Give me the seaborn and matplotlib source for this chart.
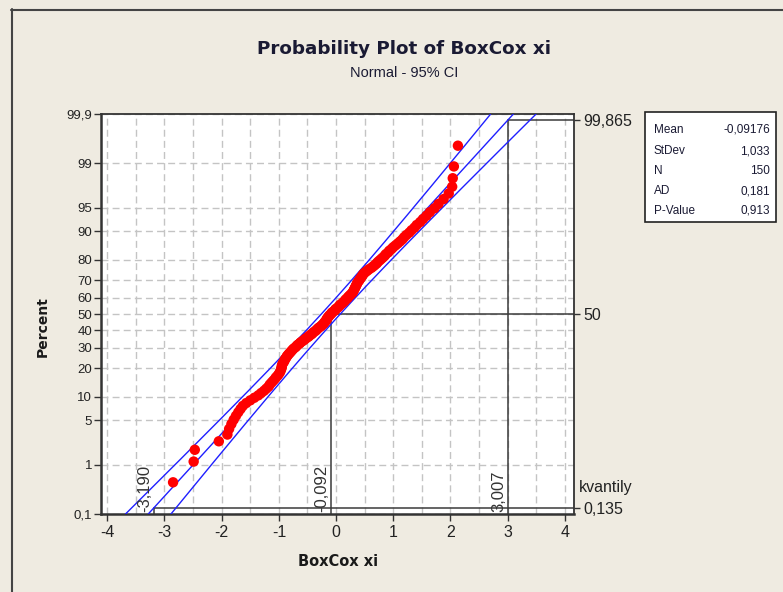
import numpy as np
import pandas as pd
import matplotlib
matplotlib.use("Agg")
import matplotlib.pyplot as plt
import matplotlib.transforms as mtransforms
from matplotlib.patches import Rectangle
from matplotlib.lines import Line2D
from matplotlib.ticker import MultipleLocator
import seaborn as sns
from statistics import NormalDist

# Sorted Box-Cox transformed observations
box_cox_xi = [
    -2.85, -2.49, -2.47, -2.05,
    -1.90, -1.87, -1.83, -1.79, -1.75, -1.71, -1.67, -1.63, -1.57, -1.50, -1.43, -1.36,
    -1.31, -1.26, -1.22, -1.18,
    -1.16, -1.13, -1.10, -1.07, -1.05, -1.02,
    -1.00, -0.98, -0.97, -0.96, -0.95, -0.95, -0.94, -0.93, -0.91, -0.90, -0.89, -0.87,
    -0.86, -0.84, -0.82, -0.80, -0.78, -0.76, -0.74, -0.71, -0.69, -0.67, -0.64, -0.62,
    -0.59, -0.56, -0.54, -0.51, -0.48, -0.46, -0.43, -0.41, -0.39, -0.36, -0.34, -0.32,
    -0.30, -0.27, -0.25, -0.23, -0.21, -0.20, -0.18, -0.17, -0.16, -0.15, -0.13, -0.12, -0.10,
    -0.08, -0.07, -0.04, -0.02, -0.01, 0.02, 0.04, 0.06, 0.07, 0.10, 0.12, 0.14, 0.16,
    0.17, 0.20, 0.21, 0.23, 0.25, 0.27, 0.29, 0.30, 0.31, 0.32, 0.33, 0.34,
    0.35, 0.36, 0.37, 0.38, 0.40, 0.41, 0.43, 0.44, 0.46, 0.47, 0.49, 0.52, 0.55,
    0.58, 0.62, 0.65, 0.68, 0.71, 0.73, 0.76, 0.79, 0.82, 0.85, 0.87, 0.91,
    0.93, 0.97, 1.00, 1.04, 1.08, 1.12, 1.16, 1.19, 1.23, 1.28, 1.32, 1.37, 1.41,
    1.47, 1.52, 1.58, 1.64, 1.72, 1.79, 1.88, 1.97, 2.03, 2.04, 2.06, 2.13,
]

# Summary statistics of the fit
mean_val = -0.09176
stdev_val = 1.033
n_obs = 150
stats_labels = ["Mean", "StDev", "N", "AD", "P-Value"]
stats_values = ["-0,09176", "1,033", "150", "0,181", "0,913"]

# Axis ticks
percent_ticks = [0.1, 1, 5, 10, 20, 30, 40, 50, 60, 70, 80, 90, 95, 99, 99.9]
percent_labels = ["0,1", "1", "5", "10", "20", "30", "40", "50", "60", "70",
                  "80", "90", "95", "99", "99,9"]
x_ticks = [-4, -3, -2, -1, 0, 1, 2, 3, 4]

# Quantile reference lines
ref_x = [-3.190, -0.092, 3.007]
ref_x_labels = ["-3,190", "-0,092", "3,007"]
ref_pct = [0.135, 50, 99.865]
ref_pct_labels = ["0,135", "50", "99,865"]

BG = "#EFEBE1"
FONT = "Liberation Sans"
HEAD = "DejaVu Sans"

sns.set_theme(style="white")
plt.rcParams["font.family"] = [FONT, "DejaVu Sans"]
plt.rcParams["axes.unicode_minus"] = False

nd = NormalDist()


def zq(pct):
    return nd.inv_cdf(pct / 100.0)


W, H = 783, 592
fig = plt.figure(figsize=(W / 100, H / 100), dpi=100, facecolor=BG)
ax = fig.add_axes([101 / W, 1 - 514 / H, (574 - 101) / W, (514 - 114) / H])
ax.set_facecolor("white")

z_lo, z_hi = zq(0.1), zq(99.9)
x_lo, x_hi = -4.11, 4.16

# Plotting positions (median ranks)
ranks = np.arange(1, n_obs + 1)
z_pos = [nd.inv_cdf((r - 0.3) / (n_obs + 0.4)) for r in ranks]
df = pd.DataFrame({"x": box_cox_xi, "z": z_pos})

# Fitted line with 95% confidence band for the percentiles
zg = np.linspace(z_lo, z_hi, 300)
fit = mean_val + stdev_val * zg
half = 1.96 * stdev_val * np.sqrt(1.0 / n_obs + zg ** 2 / (2.0 * n_obs))
lines = pd.DataFrame({"z": np.concatenate([zg, zg, zg]),
                      "x": np.concatenate([fit, fit - half, fit + half]),
                      "part": ["fit"] * len(zg) + ["lo"] * len(zg) + ["hi"] * len(zg)})
sns.lineplot(data=lines, x="x", y="z", units="part", estimator=None, sort=False,
             orient="y", color="#1f1fff", lw=1.0, ax=ax, zorder=3)

# Reference quantile lines
ref_col = "#3a3a3a"
for xv, pv in zip(ref_x, ref_pct):
    zv = zq(pv)
    ax.plot([xv, x_hi], [zv, zv], color=ref_col, lw=1.1, zorder=2.5)
    ax.plot([xv, xv], [z_lo, zv], color=ref_col, lw=1.1, zorder=2.5)

sns.scatterplot(data=df, x="x", y="z", color="#ff0000", s=56, edgecolor="none",
                ax=ax, zorder=4, legend=False)

ax.set_xlim(x_lo, x_hi)
ax.set_ylim(z_lo, z_hi)
ax.set_xticks(x_ticks)
ax.set_xticklabels([str(v) for v in x_ticks])
ax.xaxis.set_minor_locator(MultipleLocator(0.5))
ax.set_yticks([zq(p) for p in percent_ticks])
ax.set_yticklabels(percent_labels)
ax.set_xlabel("")
ax.set_ylabel("")

ax.grid(True, which="both", axis="x", color="#c4c4c4", lw=1.0, ls=(0, (5, 3)), zorder=0)
ax.grid(True, which="major", axis="y", color="#c4c4c4", lw=1.0, ls=(0, (5, 3)), zorder=0)
ax.set_axisbelow(True)

ax.tick_params(axis="x", which="major", direction="out", length=5, width=1, color="#333333",
               labelsize=11.5, pad=3, labelcolor="#222222", bottom=True)
ax.tick_params(axis="x", which="minor", length=0)
ax.tick_params(axis="y", which="major", direction="out", length=5, width=1, color="#333333",
               labelsize=9.5, pad=1.5, labelcolor="#222222", left=True)
for side in ["left", "bottom"]:
    ax.spines[side].set_color("#333333")
    ax.spines[side].set_linewidth(1.8)
for side in ["right", "top"]:
    ax.spines[side].set_color("#333333")
    ax.spines[side].set_linewidth(1.3)

# Right-side quantile labels
ax2 = ax.twinx()
ax2.set_ylim(z_lo, z_hi)
ax2.set_yticks([zq(p) for p in ref_pct])
ax2.set_yticklabels(ref_pct_labels)
ax2.tick_params(axis="y", direction="out", length=4, width=1, color="#333333",
                labelsize=11.5, pad=3, labelcolor="#222222")
ax2.grid(False)
for s in ax2.spines.values():
    s.set_visible(False)
ax2.text(1.0, zq(0.135), "kvantily", transform=mtransforms.offset_copy(
    ax2.get_yaxis_transform(), fig, x=5, y=21, units="dots"),
    ha="left", va="center", fontsize=11.5, color="#222222")

# Rotated quantile values next to the vertical reference lines
for xv, lab in zip(ref_x, ref_x_labels):
    tr = mtransforms.offset_copy(ax.get_xaxis_transform(), fig, x=-1.5, y=2, units="dots")
    ax.text(xv, 0.0, lab, transform=tr, rotation=90, ha="right", va="bottom",
            fontsize=12, color="#333333", zorder=5)

# Titles and axis labels
fig.text(404 / W, 1 - 49 / H, "Probability Plot of BoxCox xi", ha="center", va="center",
         fontsize=13.2, fontweight="bold", color="#1a1a33", family=HEAD)
fig.text(404 / W, 1 - 73 / H, "Normal - 95% CI", ha="center", va="center",
         fontsize=10.5, color="#1a1a33")
fig.text(338 / W, 1 - 562 / H, "BoxCox xi", ha="center", va="center",
         fontsize=10.5, fontweight="bold", color="#1a1a1a", family=HEAD)
fig.text(43 / W, 1 - 327 / H, "Percent", ha="center", va="center", rotation=90,
         fontsize=10, fontweight="bold", color="#1a1a1a", family=HEAD)

# Statistics table
bx0, by0, bx1, by1 = 645, 112, 776, 222
fig.add_artist(Rectangle((bx0 / W, 1 - by1 / H), (bx1 - bx0) / W, (by1 - by0) / H,
                         transform=fig.transFigure, facecolor="white",
                         edgecolor="#222222", lw=1.2))
row_y = [130, 151, 171, 191, 211]
for lab, val, yy in zip(stats_labels, stats_values, row_y):
    fig.text(654 / W, 1 - yy / H, lab, ha="left", va="center", fontsize=8.5,
             color="#1a1a33")
    fig.text(770 / W, 1 - yy / H, val, ha="right", va="center", fontsize=8.5,
             color="#1a1a33")

# Outer frame
fig.add_artist(Line2D([11.5 / W, 11.5 / W], [0, 1 - 9 / H], transform=fig.transFigure,
                      color="#444444", lw=1.5))
fig.add_artist(Line2D([11 / W, 1], [1 - 9.5 / H, 1 - 9.5 / H], transform=fig.transFigure,
                      color="#444444", lw=1.5))

fig.savefig("out.png", dpi=100, facecolor=BG)
